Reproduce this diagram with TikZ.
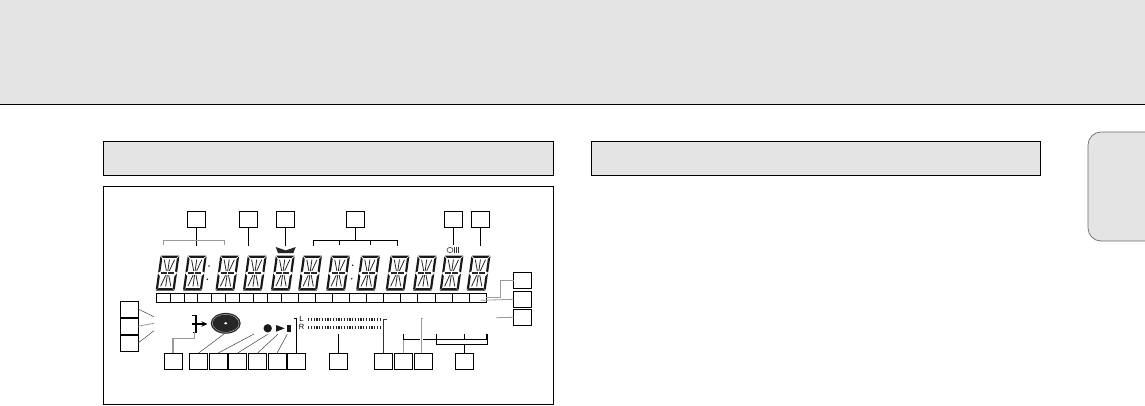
\documentclass[tikz,border=0pt]{standalone}
\usepackage{fontspec}
\setmainfont{Liberation Sans}
\usetikzlibrary{positioning,arrows.meta}
\definecolor{bandgrey}{HTML}{E4E4E4}
\definecolor{leadgrey}{HTML}{9A9A9A}
\tikzset{
  numbox/.style={draw, line width=.8pt, minimum width=18pt, minimum height=15.8pt, inner sep=0pt, outer sep=0pt},
  lead/.style={line width=.8pt, black},
  softlead/.style={line width=.8pt, leadgrey},
  hairlead/.style={line width=.5pt, black!75},
  meter/.style={line width=3pt, black!85, dash pattern=on 1.3pt off 1.45pt},
  segdigit/.pic={
    \fill[black!90] (.3,0) -- (18.7,0) -- (16.2,2.4) -- (2.8,2.4) -- cycle;
    \fill[black!90] (.3,35) -- (18.7,35) -- (16.2,32.6) -- (2.8,32.6) -- cycle;
    \foreach \ytop/\ybot in {.8/17, 18/34.2} {
      \fill[black!90] (0,\ytop) -- (2.2,\ytop+2.6) -- (2.2,\ybot-1.2) -- (0,\ybot) -- cycle;
      \fill[black!90] (19,\ytop) -- (16.8,\ytop+2.6) -- (16.8,\ybot-1.2) -- (19,\ybot) -- cycle;
    }
    \draw[line width=.8pt, black!85] (9.5,4) -- (9.5,15.6) (9.5,19.4) -- (9.5,31)
      (4.4,4.2) -- (8,15.3) (14.6,4.2) -- (11,15.3) (8,19.7) -- (4.4,30.8) (11,19.7) -- (14.6,30.8);
    \draw[line width=1.1pt, black!85] (3,17.5) -- (9,17.5) (10,17.5) -- (16,17.5);
  }
}
\begin{document}
\begin{tikzpicture}[x=1pt, y=-1pt]
  \useasboundingbox (0,0) rectangle (1145,405);
  % page furniture
  \fill[bandgrey] (0,0) rectangle (1145,104);
  \draw[line width=1pt] (0,104.5) -- (1145,104.5);
  \draw[line width=.7pt, fill=bandgrey] (103.5,141.5) rectangle (553,175);
  \draw[line width=.7pt, fill=bandgrey] (591.5,141.5) rectangle (1040,175);
  \draw[line width=.7pt, leadgrey!70!black, fill=bandgrey, rounded corners=13pt]
    (1150,132) -- (1088,132) -- (1088,241) -- (1150,241);
  \draw[line width=.8pt] (103.5,186.5) rectangle (553,404);

  % display
  \foreach \digx in {160.5,187.8,220.3,247.8,275.8,303,331,361,390.5,417.8,444.5,471.5}
    \pic[xslant=.14] at (\digx,255.5) {segdigit};
  \foreach \dotx/\doty in {209/266, 207.3/279.3, 352.7/265.3, 351.7/278.7}
    \fill[black!85] (\dotx,\doty) circle (.9);
  \draw[line width=.8pt] (156,293.5) rectangle (486.7,302.3);
  \foreach \cellx in {170,184,197.7,211.7,225.7,239.7,253.7,267.7,281.7,298.3,315.7,332,349.3,366.7,383.3,400.3,417.7,435,452.3,469.3}
    \draw[line width=.6pt] (\cellx,293.5) -- (\cellx,302.3);

  % symbols
  \fill[black!85] (275.7,247) -- (285.7,250.4) -- (295.7,247) -- (293.4,253) -- (278,253) -- cycle;
  \draw[line width=.6pt, black!80] (450,250) ellipse (3 and 2.6);
  \foreach \barx in {454.3,456.3,458.3}
    \draw[line width=.8pt, black!80] (\barx,247.3) -- (\barx,252.8);
  \fill[black!85] (225.7,323.3) ellipse (15 and 10.4);
  \draw[line width=.4pt, white!75!black] (225.7,323.3) ellipse (13.4 and 9);
  \fill[white] (225.7,323.3) ellipse (1.7 and 1.2);
  \draw[line width=1.5pt] (191.7,315.7) -- (195.8,315.7) -- (195.8,332.3) -- (192.5,332.3);
  \draw[line width=1.2pt, -{Stealth[length=6pt,width=5.5pt]}] (191.7,324) -- (207.5,324);
  \fill[black!90] (267.7,328.3) circle (4.2);
  \fill[black!90] (276,325) -- (284.7,328.3) -- (276,331.7) -- cycle;
  \fill[black!90] (287,325) rectangle (291,331.7);
  \node[font=\fontsize{7.5}{7.5}\selectfont, inner sep=0pt] (chL) at (301.5,319.3) {L};
  \node[font=\fontsize{7.5}{7.5}\selectfont, inner sep=0pt] (chR) at (301.5,327) {R};
  \draw[meter] (308,319.8) -- (381.7,319.8);
  \draw[meter] (308,327) -- (381.7,327);

  % numbered boxes, top row
  \node[numbox] (t1) at (196.5,219.5) {};
  \node[numbox] (t2) [right=34pt of t1] {};
  \node[numbox] (t3) [right=19pt of t2] {};
  \node[numbox] (t4) [right=52pt of t3] {};
  \node[numbox] (t5) [right=80pt of t4] {};
  \node[numbox] (t6) [right=9pt of t5] {};
  % left column
  \node[numbox] (l1) at (129,309) {};
  \node[numbox] (l2) [below=1.4pt of l1] {};
  \node[numbox] (l3) [below=1.1pt of l2] {};
  % right column
  \node[numbox] (r1) at (522.5,280) {};
  \node[numbox] (r2) [below=3.5pt of r1] {};
  \node[numbox] (r3) [below=2.2pt of r2] {};
  % bottom row
  \node[numbox] (b1) at (173,361) {};
  \node[numbox] (b2) [right=7.5pt of b1] {};
  \node[numbox] (b3) [right=1.5pt of b2] {};
  \node[numbox] (b4) [right=1.5pt of b3] {};
  \node[numbox] (b5) [right=2pt of b4] {};
  \node[numbox] (b6) [right=1.5pt of b5] {};
  \node[numbox] (b7) [right=1.5pt of b6] {};
  \node[numbox] (b8) [right=24pt of b7] {};
  \node[numbox] (b9) [right=27pt of b8] {};
  \node[numbox] (b10) [right=2pt of b9] {};
  \node[numbox] (b11) [right=2pt of b10] {};
  \node[numbox] (b12) [right=23pt of b11] {};

  % free ends
  \coordinate (e1) at (196.5,245.7);
  \coordinate (e2) at (248.5,246);
  \coordinate (e3) at (285.5,246);
  \coordinate (e4) at (355.5,240.3);
  \coordinate (e5) at (453.5,245);
  \coordinate (e6) at (480.5,245.7);
  \coordinate (el1) at (154,316.7);
  \coordinate (el2) at (154,323.3);
  \coordinate (el3) at (154,330.7);
  \coordinate (er1) at (486,297);
  \coordinate (er2) at (481,300.3);
  \coordinate (er3) at (496,317.7);
  \coordinate (eb1) at (194.3,332.3);
  \coordinate (eb2) at (225,333.3);
  \coordinate (eb3) at (254,334);
  \coordinate (eb4) at (267.7,334.3);
  \coordinate (eb5) at (277.7,334.3);
  \coordinate (eb6) at (287.3,334.3);
  \coordinate (eb7) at (294,318.3);
  \coordinate (eb8) at (338.5,334.3);
  \coordinate (eb9) at (387,319.3);
  \coordinate (eb10) at (403.5,339.3);
  \coordinate (eb11) at (421.7,318.3);
  \coordinate (eb12) at (464.5,344.3);

  % connectors
  \path[lead]
    (t1) edge (e1)
    (t2) edge (e2)
    (t3) edge (e3)
    (t4) edge (e4)
    (t5) edge (e5)
    (t6) edge (e6)
    (b8) edge (eb8)
    (b12) edge (eb12);
  \draw[lead] (b7.north) |- (eb7);
  \draw[lead, black!80] (b9.north) |- (eb9);
  \draw[softlead] (163.3,245) |- (224.3,240.3) -- (224.3,245);
  \draw[lead] (313.3,245.5) |- (397.7,240.3) -- (397.7,245.7);
  \draw[lead] (339.3,240.3) -- (339.3,245) (370.3,240.3) -- (370.3,245);
  \draw[hairlead] (l1.east) -- (el1);
  \draw[softlead] (l2.east) -- (el2);
  \draw[hairlead] (l3.east) -- (el3);
  \draw[softlead] (r1.west) -| (500.7,297) -- (er1);
  \draw[softlead] (r2.west) -- (er2);
  \draw[softlead] (r3.west) -- (er3);
  \draw[softlead, line width=1.2pt] (b1.north) |- (194.3,338.3) -- (eb1);
  \draw[hairlead] (b2.north) -- (eb2);
  \draw[hairlead] (b3.north) -- (eb3);
  \draw[hairlead] (b4.north) -- (eb4);
  \draw[hairlead] (b5.north) -- (eb5);
  \draw[hairlead] (b6.north) -- (eb6);
  \draw[softlead] (b10.north) -- (eb10);
  \draw[softlead] (b11.north -| eb11) -- (eb11) -- ++(1.5,0);
  \draw[lead] (403.5,334.3) |- (420,339.3);
  \draw[lead] (423.3,339.3) -| (486,334.3);
  \draw[lead] (436.7,334.3) |- (487.3,344.3) -- (487.3,334.3);
  \draw[lead] (464.7,334.3) -- (464.7,339.3);
\end{tikzpicture}
\end{document}
